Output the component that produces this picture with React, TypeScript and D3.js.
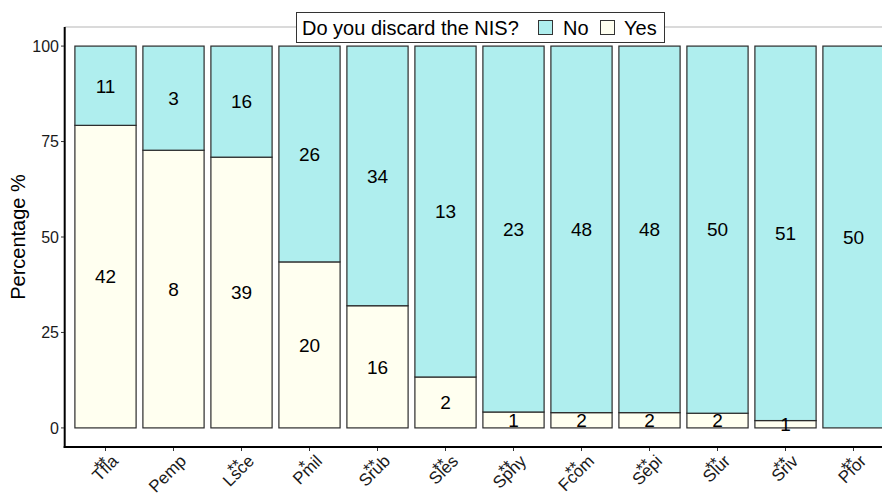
import React, { useEffect, useRef } from "react";
import * as d3 from "d3";

// Species codes, significance marks and response counts
const species = ["Tfla", "Pemp", "Lsce", "Pmil", "Srub", "Sles", "Sphy", "Fcom", "Sepi", "Slur", "Sriv", "Pfor"];
const signif = ["**", "", "**", "*", "**", "**", "**", "**", "**", "**", "**", "**"];
const countYes = [42, 8, 39, 20, 16, 2, 1, 2, 2, 2, 1, 0];
const countNo = [11, 3, 16, 26, 34, 13, 23, 48, 48, 50, 51, 50];
const yTicks = [0, 25, 50, 75, 100];
const responses = ["Yes", "No"];

const FILL: Record<string, string> = { No: "#AFEEEE", Yes: "#FFFFF0" };
const FONT = "'Liberation Sans', Arial, Helvetica, sans-serif";

const W = 882;
const H = 493;

export default function App() {
  const ref = useRef<SVGSVGElement | null>(null);

  useEffect(() => {
    const svg = d3.select(ref.current);
    svg.selectAll("*").remove();

    const rows = species.map((s, i) => ({ sp: s, Yes: countYes[i], No: countNo[i] }));
    const stacked = d3.stack<any>().keys(responses).offset(d3.stackOffsetExpand)(rows);

    const x = d3
      .scaleBand<string>()
      .domain(species)
      .range([64.7, 64.7 + 68 * 12.2])
      .paddingInner(0.1)
      .paddingOuter(0.15);
    const y = d3.scaleLinear().domain([-5, 105]).range([447, 27]);

    const g = svg.append("g").attr("font-family", FONT);

    // top panel edge
    g.append("line")
      .attr("x1", x.range()[0])
      .attr("x2", W)
      .attr("y1", y(105))
      .attr("y2", y(105))
      .attr("stroke", "#b5b5b5")
      .attr("stroke-width", 1);

    // stacked bars
    stacked.forEach((layer) => {
      const key = layer.key;
      layer.forEach((seg, i) => {
        const y0 = seg[0] * 100;
        const y1 = seg[1] * 100;
        if (y1 - y0 <= 0) return;
        g.append("rect")
          .attr("x", x(species[i])!)
          .attr("width", x.bandwidth())
          .attr("y", y(y1))
          .attr("height", y(y0) - y(y1))
          .attr("fill", FILL[key])
          .attr("stroke", "#2b2b2b")
          .attr("stroke-width", 1.2);
      });
    });

    // count labels in the middle of each segment
    stacked.forEach((layer) => {
      const key = layer.key;
      layer.forEach((seg, i) => {
        const v = key === "Yes" ? countYes[i] : countNo[i];
        if (v <= 0) return;
        const mid = ((seg[0] + seg[1]) / 2) * 100;
        g.append("text")
          .attr("x", x(species[i])! + x.bandwidth() / 2)
          .attr("y", y(mid))
          .attr("dy", "0.36em")
          .attr("text-anchor", "middle")
          .attr("font-size", 19)
          .attr("fill", "#000")
          .text(v);
      });
    });

    // y axis
    g.append("line")
      .attr("x1", 64.7)
      .attr("x2", 64.7)
      .attr("y1", y(105))
      .attr("y2", y(-5) + 1)
      .attr("stroke", "#000")
      .attr("stroke-width", 2);
    yTicks.forEach((t) => {
      g.append("line")
        .attr("x1", 61)
        .attr("x2", 64)
        .attr("y1", y(t))
        .attr("y2", y(t))
        .attr("stroke", "#333")
        .attr("stroke-width", 1);
      g.append("text")
        .attr("x", 59)
        .attr("y", y(t))
        .attr("dy", "0.36em")
        .attr("text-anchor", "end")
        .attr("font-size", 16)
        .attr("fill", "#1a1a1a")
        .text(t);
    });
    g.append("text")
      .attr("transform", `translate(25,${y(50)}) rotate(-90)`)
      .attr("text-anchor", "middle")
      .attr("font-size", 20)
      .attr("fill", "#000")
      .text("Percentage %");

    // x axis
    g.append("line")
      .attr("x1", 63.7)
      .attr("x2", W)
      .attr("y1", y(-5))
      .attr("y2", y(-5))
      .attr("stroke", "#000")
      .attr("stroke-width", 2);
    species.forEach((s, i) => {
      const cx = x(s)! + x.bandwidth() / 2;
      g.append("line")
        .attr("x1", cx)
        .attr("x2", cx)
        .attr("y1", 448)
        .attr("y2", 451)
        .attr("stroke", "#333")
        .attr("stroke-width", 1);
      // two-line label: significance stars centred over the species code
      const lab = g.append("g").attr("transform", `translate(${cx + 3.5},454) rotate(-45)`);
      const name = lab
        .append("text")
        .attr("x", 1.5)
        .attr("y", 13)
        .attr("text-anchor", "end")
        .attr("font-size", 17)
        .attr("fill", "#1a1a1a")
        .text(s);
      const w = (name.node() as SVGTextElement).getComputedTextLength();
      if (signif[i]) {
        lab
          .append("text")
          .attr("x", 1.5 - w / 2)
          .attr("y", 7.5)
          .attr("text-anchor", "middle")
          .attr("font-size", 17)
          .attr("fill", "#1a1a1a")
          .text(signif[i]);
      }
    });

    // legend
    const leg = g.append("g");
    leg
      .append("rect")
      .attr("x", 296.5)
      .attr("y", 12.5)
      .attr("width", 368)
      .attr("height", 30)
      .attr("fill", "#fff")
      .attr("stroke", "#333")
      .attr("stroke-width", 1);
    leg
      .append("text")
      .attr("x", 302)
      .attr("y", 27.5)
      .attr("dy", "0.36em")
      .attr("font-size", 20)
      .attr("fill", "#000")
      .text("Do you discard the NIS?");
    const keys = [
      { k: "No", kx: 538, tx: 563 },
      { k: "Yes", kx: 600, tx: 624 },
    ];
    keys.forEach((d) => {
      leg
        .append("rect")
        .attr("x", d.kx + 0.5)
        .attr("y", 20.5)
        .attr("width", 14)
        .attr("height", 14)
        .attr("fill", FILL[d.k])
        .attr("stroke", "#333")
        .attr("stroke-width", 1);
      leg
        .append("text")
        .attr("x", d.tx)
        .attr("y", 27.5)
        .attr("dy", "0.36em")
        .attr("font-size", 20)
        .attr("fill", "#000")
        .text(d.k);
    });
  }, []);

  return (
    <svg
      ref={ref}
      width={W}
      height={H}
      style={{ position: "absolute", left: 0, top: 0, background: "#fff" }}
    />
  );
}
